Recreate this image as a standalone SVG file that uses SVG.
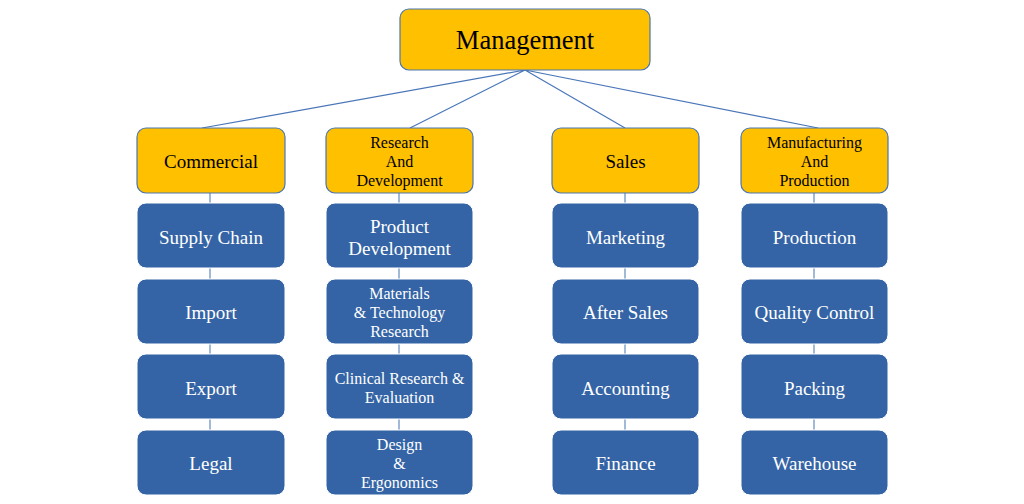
<svg xmlns="http://www.w3.org/2000/svg" width="1024" height="504" viewBox="0 0 1024 504">
<style>
.y{fill:#FFC000;stroke:#4A76B0;stroke-width:1.2}
.b{fill:#3464A5;stroke:#FFFFFF;stroke-width:1}
.c{stroke:#4A76B8;stroke-width:1.2;fill:none}
.v{stroke:#7095C4;stroke-width:1.3;fill:none}
text{font-family:"Liberation Serif","Times New Roman",serif;text-anchor:middle}
.tk{fill:#000}
.tw{fill:#FFFFFF}
</style>
<rect width="1024" height="504" fill="#FFFFFF"/>
<g id="connectors">
<path class="c" d="M525,70 L202,128 M525,70 L410,128 M525,70 L625,128 M525,70 L818,128"/>
<path class="v" d="M210,193 V203 M210,268 V279 M210,344 V354 M210,419 V430"/>
<path class="v" d="M399,193 V203 M399,268 V279 M399,344 V354 M399,419 V430"/>
<path class="v" d="M625,193 V203 M625,268 V279 M625,344 V354 M625,419 V430"/>
<path class="v" d="M814,193 V203 M814,268 V279 M814,344 V354 M814,419 V430"/>
</g>
<g id="management"><rect class="y" x="400" y="9" width="250" height="61" rx="9"/><text class="tk" x="525" y="49" font-size="26.5">Management</text></g>

<g id="commercial"><rect class="y" x="137" y="128" width="148" height="65" rx="9"/><text class="tk" x="211" y="168" font-size="19">Commercial</text></g>
<g id="rnd"><rect class="y" x="326" y="128" width="147" height="65" rx="9"/><text class="tk" font-size="16"><tspan x="399.5" y="148">Research</tspan><tspan x="399.5" y="167">And</tspan><tspan x="399.5" y="186">Development</tspan></text></g>
<g id="sales"><rect class="y" x="552" y="128" width="147" height="65" rx="9"/><text class="tk" x="625.5" y="168" font-size="19">Sales</text></g>
<g id="mfg"><rect class="y" x="741" y="128" width="147" height="65" rx="9"/><text class="tk" font-size="16"><tspan x="814.5" y="148">Manufacturing</tspan><tspan x="814.5" y="167">And</tspan><tspan x="814.5" y="186">Production</tspan></text></g>

<g id="supply"><rect class="b" x="137" y="203" width="148" height="65" rx="9"/><text class="tw" x="211" y="244" font-size="19">Supply Chain</text></g>
<g id="import"><rect class="b" x="137" y="279" width="148" height="65" rx="9"/><text class="tw" x="211" y="319" font-size="19">Import</text></g>
<g id="export"><rect class="b" x="137" y="354" width="148" height="65" rx="9"/><text class="tw" x="211" y="395" font-size="19">Export</text></g>
<g id="legal"><rect class="b" x="137" y="430" width="148" height="65" rx="9"/><text class="tw" x="211" y="470" font-size="19">Legal</text></g>

<g id="productdev"><rect class="b" x="326" y="203" width="147" height="65" rx="9"/><text class="tw" font-size="19"><tspan x="399.5" y="233">Product</tspan><tspan x="399.5" y="255">Development</tspan></text></g>
<g id="materials"><rect class="b" x="326" y="279" width="147" height="65" rx="9"/><text class="tw" font-size="16"><tspan x="399.5" y="299">Materials</tspan><tspan x="399.5" y="318">&amp; Technology</tspan><tspan x="399.5" y="337">Research</tspan></text></g>
<g id="clinical"><rect class="b" x="326" y="354" width="147" height="65" rx="9"/><text class="tw" font-size="16"><tspan x="399.5" y="384">Clinical Research &amp;</tspan><tspan x="399.5" y="403">Evaluation</tspan></text></g>
<g id="design"><rect class="b" x="326" y="430" width="147" height="65" rx="9"/><text class="tw" font-size="16"><tspan x="399.5" y="450">Design</tspan><tspan x="399.5" y="469">&amp;</tspan><tspan x="399.5" y="488">Ergonomics</tspan></text></g>

<g id="marketing"><rect class="b" x="552" y="203" width="147" height="65" rx="9"/><text class="tw" x="625.5" y="244" font-size="19">Marketing</text></g>
<g id="aftersales"><rect class="b" x="552" y="279" width="147" height="65" rx="9"/><text class="tw" x="625.5" y="319" font-size="19">After Sales</text></g>
<g id="accounting"><rect class="b" x="552" y="354" width="147" height="65" rx="9"/><text class="tw" x="625.5" y="395" font-size="19">Accounting</text></g>
<g id="finance"><rect class="b" x="552" y="430" width="147" height="65" rx="9"/><text class="tw" x="625.5" y="470" font-size="19">Finance</text></g>

<g id="production"><rect class="b" x="741" y="203" width="147" height="65" rx="9"/><text class="tw" x="814.5" y="244" font-size="19">Production</text></g>
<g id="quality"><rect class="b" x="741" y="279" width="147" height="65" rx="9"/><text class="tw" x="814.5" y="319" font-size="19">Quality Control</text></g>
<g id="packing"><rect class="b" x="741" y="354" width="147" height="65" rx="9"/><text class="tw" x="814.5" y="395" font-size="19">Packing</text></g>
<g id="warehouse"><rect class="b" x="741" y="430" width="147" height="65" rx="9"/><text class="tw" x="814.5" y="470" font-size="19">Warehouse</text></g>
</svg>
